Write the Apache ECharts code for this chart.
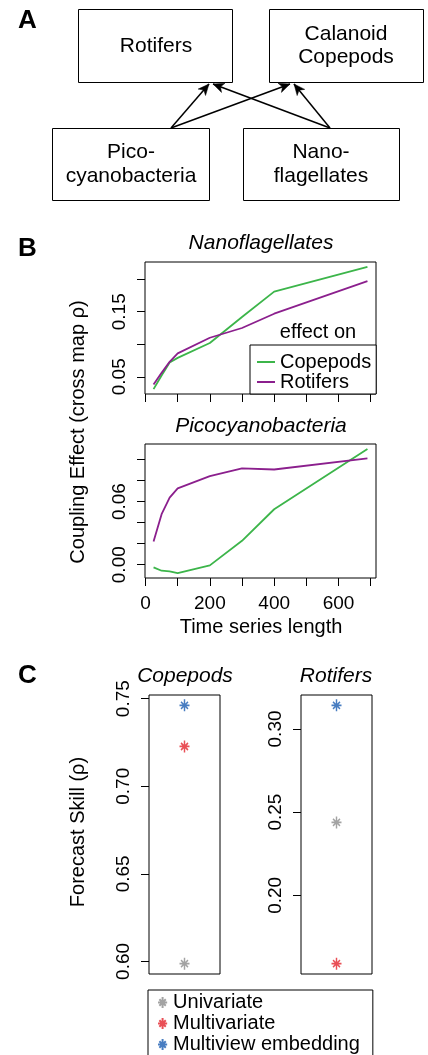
<!DOCTYPE html>
<html><head><meta charset="utf-8">
<script src="https://cdn.jsdelivr.net/npm/echarts@6/dist/echarts.min.js"></script>
<style>html,body{margin:0;padding:0;background:#fff;}#c{width:428px;height:1055px;}</style>
</head><body><div id="c"></div>
<script>
// ---------------- data ----------------
const timeLength   = [25, 50, 75, 100, 200, 300, 400, 690];
const nanoCopepods = [0.031, 0.052, 0.072, 0.079, 0.102, 0.142, 0.181, 0.219];
const nanoRotifers = [0.038, 0.056, 0.073, 0.086, 0.110, 0.125, 0.147, 0.197];
const picoCopepods = [-0.0025, -0.0057, -0.0063, -0.0079, -0.0006, 0.0227, 0.0527, 0.110];
const picoRotifers = [0.0221, 0.048, 0.0637, 0.0726, 0.0842, 0.0915, 0.0905, 0.101];

const xTicks      = [0, 100, 200, 300, 400, 500, 600, 700];
const xTickLabels = [0, 200, 400, 600];
const nanoYTicks  = [0.05, 0.10, 0.15, 0.20];
const nanoYLabels = [0.05, 0.15];
const picoYTicks  = [0.00, 0.02, 0.04, 0.06, 0.08, 0.10];
const picoYLabels = [0.00, 0.06];

const methods      = ['Univariate', 'Multivariate', 'Multiview embedding'];
const copepodSkill = [0.5987, 0.7227, 0.7462];
const rotiferSkill = [0.2438, 0.1589, 0.3142];
const copYTicks    = [0.60, 0.65, 0.70, 0.75];
const rotYTicks    = [0.20, 0.25, 0.30];

// ---------------- style ----------------
const FONT = '"Liberation Sans", Arial, Helvetica, sans-serif';
const GREEN = '#3cb54a', PURPLE = '#8b1f8d';
const METHOD_COLORS = ['#8c8c8c', '#e3232c', '#1a5cb2'];
const STAR = 'path://M5 0 L5 12 M0 6 L10 6 M1.5 2.5 L8.5 9.5 M1.5 9.5 L8.5 2.5';

function rRange(vals) {
  const mn = Math.min(...vals), mx = Math.max(...vals), d = (mx - mn) * 0.04;
  return [mn - d, mx + d];
}
const xr = rRange(timeLength);
const nyr = rRange(nanoCopepods.concat(nanoRotifers));
const pyr = rRange(picoCopepods.concat(picoRotifers));
const cyr = rRange(copepodSkill);
const ryr = rRange(rotiferSkill);

const zip = (xs, ys) => xs.map((x, i) => [x, ys[i]]);

function valAxis(gi, range, ticks, labels, fmt) {
  return {
    type: 'value', gridIndex: gi, min: range[0], max: range[1],
    axisLine: { show: false, onZero: false }, splitLine: { show: false },
    axisTick: { show: true, customValues: ticks, length: 8, lineStyle: { color: '#000', width: 1 } },
    axisLabel: labels ? { show: true, customValues: labels, color: '#000', fontSize: 19, fontFamily: FONT,
      margin: 16, formatter: fmt } : { show: false }
  };
}
const fmt2 = v => (+v).toFixed(2);
const fmt0 = v => String(Math.round(+v));

// ---------------- diagram (panel A) and texts ----------------
const graphics = [];
function box(x1, y1, x2, y2) {
  graphics.push({ type: 'rect', shape: { x: x1 + 0.5, y: y1 + 0.5, width: x2 - x1, height: y2 - y1 },
    style: { fill: '#fff', stroke: '#000', lineWidth: 1 } });
}
function txt(s, x, y, font, align, rot) {
  graphics.push({ type: 'text', x: x, y: y, rotation: rot || 0,
    style: { text: s, font: font, fill: '#000', textAlign: align || 'center', textVerticalAlign: 'middle', verticalAlign: 'middle' } });
}
function arrow(x1, y1, x2, y2) {
  graphics.push({ type: 'line', shape: { x1: x1, y1: y1, x2: x2, y2: y2 }, style: { stroke: '#000', lineWidth: 1.5 } });
  const a = Math.atan2(y2 - y1, x2 - x1), L = 12, w = 0.42, n = 8;
  const p1 = [x2 - L * Math.cos(a - w), y2 - L * Math.sin(a - w)];
  const p2 = [x2 - L * Math.cos(a + w), y2 - L * Math.sin(a + w)];
  const pn = [x2 - n * Math.cos(a), y2 - n * Math.sin(a)];
  graphics.push({ type: 'polygon', shape: { points: [[x2, y2], p1, pn, p2] }, style: { fill: '#000', stroke: '#000', lineWidth: 0.5 } });
}
const F21 = '21px ' + FONT, F20 = '20px ' + FONT;
box(78, 9, 232, 82);  box(269, 9, 423, 82);
box(52, 128, 209, 200); box(243, 128, 399, 200);
txt('Rotifers', 156, 46, F21);
txt('Calanoid', 346, 34, F21); txt('Copepods', 346, 57.5, F21);
txt('Pico-', 131, 152.5, F21); txt('cyanobacteria', 131, 176, F21);
txt('Nano-', 321, 152.5, F21); txt('flagellates', 321, 176, F21);
arrow(171, 128, 209, 84); arrow(171, 128, 290, 84);
arrow(330, 128, 213, 84); arrow(330, 128, 294, 84);

const FB = 'bold 26px "Liberation Sans Narrow", ' + FONT;
txt('A', 18, 21, FB, 'left');
txt('B', 18, 249, FB, 'left');
txt('C', 18, 676, FB, 'left');

const FI = 'italic 21px ' + FONT;
txt('Nanoflagellates', 261, 243, FI);
txt('Picocyanobacteria', 261, 426, FI);
txt('Copepods', 185, 676, FI);
txt('Rotifers', 336, 676, FI);
txt('effect on', 318, 332, F20);
txt('Time series length', 261, 627, F20);
txt('Coupling Effect (cross map \u03c1)', 78, 432, F20, 'center', Math.PI / 2);
txt('Forecast Skill (\u03c1)', 78, 832, F20, 'center', Math.PI / 2);

// ---------------- chart ----------------
const lineSeries = (name, gi, ys, color) => ({
  type: 'line', name: name, xAxisIndex: gi, yAxisIndex: gi, data: zip(timeLength, ys),
  symbol: 'none', showSymbol: false, lineStyle: { color: color, width: 1.8 }, itemStyle: { color: color },
  emphasis: { disabled: true }, silent: true, z: 3
});
const starSeries = (gi, vals) => methods.map((m, i) => ({
  type: 'scatter', name: m, xAxisIndex: gi, yAxisIndex: gi, data: [[0, vals[i]]],
  symbol: STAR, symbolSize: [10, 12],
  itemStyle: { color: 'rgba(0,0,0,0)', borderColor: METHOD_COLORS[i], borderWidth: 1.6 },
  emphasis: { disabled: true }, silent: true, z: 3
}));

const gridBase = { show: true, borderColor: '#000', borderWidth: 1, containLabel: false, backgroundColor: 'transparent' };
const option = {
  animation: false,
  backgroundColor: '#fff',
  textStyle: { fontFamily: FONT },
  grid: [
    Object.assign({ left: 145, top: 262, width: 231, height: 132 }, gridBase),
    Object.assign({ left: 145, top: 444, width: 231, height: 134 }, gridBase),
    Object.assign({ left: 149, top: 695, width: 71, height: 279 }, gridBase),
    Object.assign({ left: 301, top: 695, width: 71, height: 279 }, gridBase)
  ],
  xAxis: [
    valAxis(0, xr, xTicks, null),
    valAxis(1, xr, xTicks, xTickLabels, fmt0),
    { type: 'value', gridIndex: 2, min: -1, max: 1, show: false },
    { type: 'value', gridIndex: 3, min: -1, max: 1, show: false }
  ],
  yAxis: [
    valAxis(0, nyr, nanoYTicks, nanoYLabels, fmt2),
    valAxis(1, pyr, picoYTicks, picoYLabels, fmt2),
    valAxis(2, cyr, copYTicks, copYTicks, fmt2),
    valAxis(3, ryr, rotYTicks, rotYTicks, fmt2)
  ],
  legend: [
    { data: ['Copepods', 'Rotifers'], orient: 'vertical', left: 250, top: 345,
      padding: [7, 5, 2, 7], itemGap: 0, itemWidth: 18, itemHeight: 2, icon: 'rect',
      backgroundColor: '#fff', borderColor: '#000', borderWidth: 1, borderRadius: 0,
      selectedMode: false, textStyle: { fontSize: 20, lineHeight: 20, color: '#000', fontFamily: FONT } },
    { data: methods, orient: 'vertical', left: 148, top: 990, height: 100, width: 260,
      padding: [2, 13, 24, 9], itemGap: 0, itemWidth: 11, itemHeight: 11,
      backgroundColor: '#fff', borderColor: '#000', borderWidth: 1, borderRadius: 0,
      selectedMode: false, textStyle: { fontSize: 20, lineHeight: 21, color: '#000', fontFamily: FONT } }
  ],
  series: [
    lineSeries('Copepods', 0, nanoCopepods, GREEN),
    lineSeries('Rotifers', 0, nanoRotifers, PURPLE),
    lineSeries('Copepods', 1, picoCopepods, GREEN),
    lineSeries('Rotifers', 1, picoRotifers, PURPLE)
  ].concat(starSeries(2, copepodSkill), starSeries(3, rotiferSkill)),
  graphic: { elements: graphics }
};
option.yAxis.forEach(a => { a.axisLabel.rotate = 90; });

const chart = echarts.init(document.getElementById('c'), null, { renderer: 'canvas' });
chart.setOption(option);
</script>
</body></html>
